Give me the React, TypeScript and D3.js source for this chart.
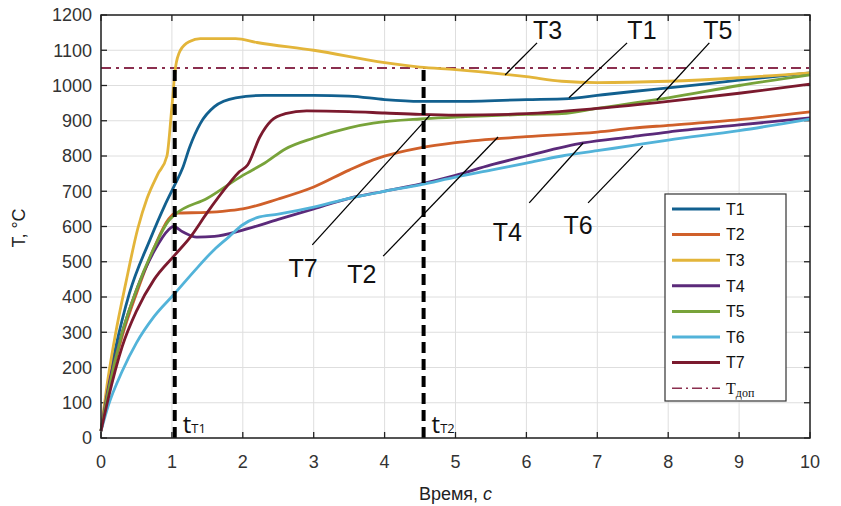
import React from 'react';
import * as d3 from 'd3';

// time, s -> temperature, °C
const t1: [number, number][] = [[0,20],[0.1,150],[0.2,250],[0.4,410],[0.69,562],[0.9,660],[1.04,718],[1.15,765],[1.25,825],[1.4,892],[1.6,940],[1.9,965],[2.3,972],[3,972],[3.5,970],[4,960],[4.5,955],[5,955],[6,960],[6.6,963],[7,972],[7.5,983],[8,993],[9,1015],[10,1036]];
const t2: [number, number][] = [[0,20],[0.1,130],[0.3,290],[0.5,410],[0.75,540],[0.95,620],[1.05,638],[1.5,640],[1.8,645],[2,650],[2.5,678],[3,712],[3.5,760],[3.84,789],[4.2,810],[4.5,823],[5,838],[6,855],[7,868],[7.5,879],[8,887],[9,903],[10,925]];
const t3: [number, number][] = [[0,20],[0.1,170],[0.2,290],[0.35,440],[0.52,595],[0.65,680],[0.8,748],[0.93,800],[1.0,940],[1.05,1050],[1.12,1100],[1.25,1125],[1.4,1133],[1.9,1133],[2.2,1122],[3,1100],[4,1065],[4.5,1052],[5,1045],[6,1025],[6.5,1012],[7,1008],[8,1012],[9,1022],[10,1036]];
const t4: [number, number][] = [[0,20],[0.1,140],[0.3,300],[0.5,420],[0.75,530],[0.95,590],[1.02,600],[1.15,585],[1.35,570],[1.6,572],[2,590],[2.5,620],[3,650],[3.5,680],[4,700],[4.5,720],[5,745],[5.5,775],[6,800],[6.8,837],[7.5,855],[8,868],[9,888],[10,908]];
const t5: [number, number][] = [[0,20],[0.1,130],[0.3,300],[0.5,420],[0.75,540],[0.95,615],[1.05,635],[1.5,680],[2,745],[2.31,780],[2.6,820],[3,851],[3.5,880],[3.84,893],[4.5,905],[5,910],[6,918],[6.5,920],[7,935],[7.5,950],[8,965],[9,1000],[10,1030]];
const t6: [number, number][] = [[0,20],[0.1,90],[0.3,190],[0.5,270],[0.75,345],[1.04,410],[1.3,470],[1.6,535],[1.8,570],[2,605],[2.2,625],[2.5,635],[3,655],[3.5,680],[4,700],[4.5,718],[5,740],[5.5,760],[6,780],[6.5,800],[7,815],[7.5,830],[8,845],[9,872],[10,905]];
const t7: [number, number][] = [[0,20],[0.1,110],[0.3,260],[0.5,360],[0.75,450],[1.04,519],[1.26,570],[1.5,640],[1.8,720],[1.95,755],[2.07,775],[2.24,854],[2.4,900],[2.6,920],[2.9,928],[3.5,926],[4,922],[4.5,918],[5,916],[6,920],[7,935],[8,955],[9,978],[10,1004]];

const seriesNames = ['T1', 'T2', 'T3', 'T4', 'T5', 'T6', 'T7'];
const seriesData = [t1, t2, t3, t4, t5, t6, t7];
const seriesColors = ['#12608f', '#d0602a', '#e3b53a', '#5b2a7a', '#78a33a', '#52b3d9', '#7b1a2e'];

const tDop = 1050;
const tMarks = [1.04, 4.55];
const xTicks = [0, 1, 2, 3, 4, 5, 6, 7, 8, 9, 10];
const yTicks = [0, 100, 200, 300, 400, 500, 600, 700, 800, 900, 1000, 1100, 1200];

// callouts: label, text anchor (t, T), leader from/to (t, T)
const callouts: { label: string; at: [number, number]; from: [number, number]; to: [number, number] }[] = [
  { label: 'T3', at: [6.3, 1132], from: [5.7, 1030], to: [6.15, 1121] },
  { label: 'T1', at: [7.63, 1132], from: [6.6, 965], to: [7.42, 1121] },
  { label: 'T5', at: [8.7, 1132], from: [7.84, 959], to: [8.58, 1121] },
  { label: 'T4', at: [5.73, 559], from: [6.04, 667], to: [6.8, 837] },
  { label: 'T6', at: [6.73, 579], from: [6.87, 667], to: [7.64, 828] },
  { label: 'T7', at: [2.85, 457], from: [2.98, 548], to: [4.64, 916] },
  { label: 'T2', at: [3.68, 440], from: [3.98, 516], to: [5.6, 854] },
];

const W = 841, H = 506;
const margin = { top: 15, right: 31, bottom: 68, left: 101 };
const font = '"Liberation Sans", Arial, sans-serif';

export default function App() {
  const w = W - margin.left - margin.right;
  const h = H - margin.top - margin.bottom;

  const x = d3.scaleLinear().domain([0, 10]).range([0, w]);
  const y = d3.scaleLinear().domain([0, 1200]).range([h, 0]);

  const line = d3.line<[number, number]>()
    .x(d => x(d[0]))
    .y(d => y(d[1]))
    .curve(d3.curveMonotoneX);

  const legX = 665 - margin.left, legY = 194 - margin.top;

  return (
    <div style={{ position: 'absolute', left: 0, top: 0 }}>
      <svg width={W} height={H} style={{ display: 'block', background: '#fff' }}>
        <g transform={`translate(${margin.left},${margin.top})`}>
          {/* grid */}
          {xTicks.map(v => (
            <line key={'gx' + v} x1={x(v)} x2={x(v)} y1={0} y2={h} stroke="#dedede" strokeWidth={1} />
          ))}
          {yTicks.map(v => (
            <line key={'gy' + v} x1={0} x2={w} y1={y(v)} y2={y(v)} stroke="#dedede" strokeWidth={1} />
          ))}

          {/* tick marks inside the box */}
          {xTicks.map(v => (
            <g key={'tx' + v}>
              <line x1={x(v)} x2={x(v)} y1={h} y2={h - 6} stroke="#222" strokeWidth={1.3} />
              <line x1={x(v)} x2={x(v)} y1={0} y2={6} stroke="#222" strokeWidth={1.3} />
            </g>
          ))}
          {yTicks.map(v => (
            <g key={'ty' + v}>
              <line x1={0} x2={6} y1={y(v)} y2={y(v)} stroke="#222" strokeWidth={1.3} />
              <line x1={w} x2={w - 6} y1={y(v)} y2={y(v)} stroke="#222" strokeWidth={1.3} />
            </g>
          ))}

          {/* limit line */}
          <line x1={0} x2={w} y1={y(tDop)} y2={y(tDop)} stroke="#8b2f4f" strokeWidth={2} strokeDasharray="10,5,3,5" />

          {/* series */}
          {seriesData.map((d, i) => (
            <path key={seriesNames[i]} d={line(d) || ''} fill="none" stroke={seriesColors[i]} strokeWidth={2.8} strokeLinejoin="round" />
          ))}

          {/* time markers */}
          {tMarks.map(v => (
            <line key={'tm' + v} x1={x(v)} x2={x(v)} y1={y(0)} y2={y(tDop)} stroke="#000" strokeWidth={4} strokeDasharray="11,6" />
          ))}
          {tMarks.map((v, i) => (
            <text key={'tl' + v} x={x(v) + 8} y={y(14)} fontFamily='"Open Sans", sans-serif' fill="#111">
              <tspan fontSize={24}>t</tspan>
              <tspan fontSize={13}>{'T' + (i + 1)}</tspan>
            </text>
          ))}

          {/* callouts */}
          {callouts.map(c => (
            <g key={'c' + c.label}>
              <line x1={x(c.from[0])} y1={y(c.from[1])} x2={x(c.to[0])} y2={y(c.to[1])} stroke="#000" strokeWidth={1.3} />
              <text x={x(c.at[0])} y={y(c.at[1])} textAnchor="middle" fontFamily={font} fontSize={25} fill="#111">{c.label}</text>
            </g>
          ))}

          {/* box */}
          <rect x={0} y={0} width={w} height={h} fill="none" stroke="#222" strokeWidth={1.5} />

          {/* tick labels */}
          {xTicks.map(v => (
            <text key={'xl' + v} x={x(v)} y={h + 30} textAnchor="middle" fontFamily={font} fontSize={18} fill="#333">{v}</text>
          ))}
          {yTicks.map(v => (
            <text key={'yl' + v} x={-9} y={y(v)} dy="0.35em" textAnchor="end" fontFamily={font} fontSize={18} fill="#333">{v}</text>
          ))}

          {/* legend */}
          <g transform={`translate(${legX},${legY})`}>
            <rect x={0} y={0} width={121} height={207} fill="#fff" stroke="#333" strokeWidth={1.2} />
            {seriesNames.map((n, i) => (
              <g key={'lg' + n} transform={`translate(0,${15 + i * 25.6})`}>
                <line x1={7} x2={55} y1={0} y2={0} stroke={seriesColors[i]} strokeWidth={3} />
                <text x={61} y={0} dy="0.36em" fontFamily={font} fontSize={16} fill="#111">{n}</text>
              </g>
            ))}
            <g transform={`translate(0,${15 + 7 * 25.6})`}>
              <line x1={7} x2={55} y1={0} y2={0} stroke="#8b2f4f" strokeWidth={1.6} strokeDasharray="10,4,2,4" />
              <text x={61} y={0} dy="0.36em" fontFamily='"Liberation Serif", serif' fill="#111">
                <tspan fontSize={16}>T</tspan>
                <tspan fontSize={12} dy="3">доп</tspan>
              </text>
            </g>
          </g>

          {/* axis titles */}
          <text transform={`translate(${25 - margin.left},${228 - margin.top}) rotate(-90)`} textAnchor="middle" fontFamily={font} fontSize={18} fill="#222">T, °C</text>
          <text x={x(5)} y={h + 62} textAnchor="middle" fontFamily={font} fontSize={18} fill="#222">
            Время, <tspan fontStyle="italic">c</tspan>
          </text>
        </g>
      </svg>
    </div>
  );
}
